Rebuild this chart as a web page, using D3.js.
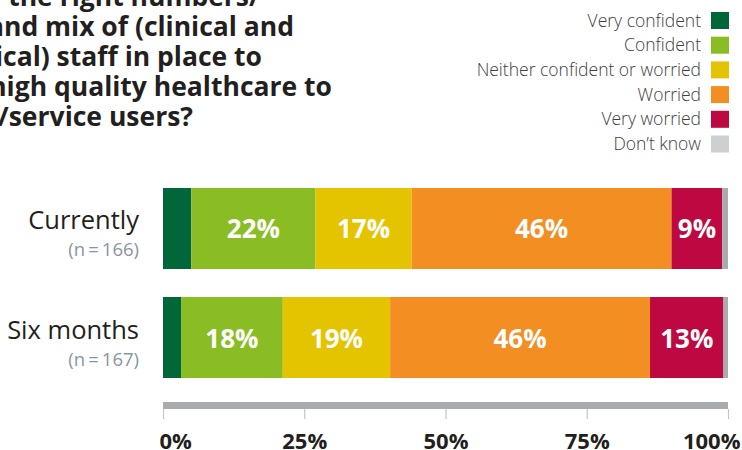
<!DOCTYPE html>
<html>
<head>
<meta charset="utf-8">
<script src="https://cdn.jsdelivr.net/npm/d3@7"></script>
<style>
  html, body { margin: 0; padding: 0; background: #fff; }
  svg { display: block; }
  text { font-family: "Open Sans", "Noto Sans", sans-serif; }
</style>
</head>
<body>
<svg id="chart" width="742" height="450"></svg>
<script>
// Survey question (wrapped over five lines)
const titleLines = [
  "How confident are you that you have the right numbers/",
  "skills and mix of (clinical and",
  "non-clinical) staff in place to",
  "deliver high quality healthcare to",
  "patients/service users?"
];

// Response categories, in stacking order
const seriesNames = ["Very confident", "Confident", "Neither confident or worried", "Worried", "Very worried", "Don\u2019t know"];
const seriesColors = ["#00673A", "#8ABD24", "#E4C300", "#F28E22", "#BE0841", "#A9ACAE"];
const legendColors = ["#00673A", "#8ABD24", "#E4C300", "#F28E22", "#BE0841", "#CDCFD0"];

// Time frames asked about and their sample sizes
const periods = ["Currently", "Six months"];
const sampleSizes = ["(n\u2009=\u2009166)", "(n\u2009=\u2009167)"];

// Percentage of respondents per category (one array per period)
const currentlyValues = [5, 22, 17, 46, 9, 1];
const sixMonthsValues = [3.2, 18, 19, 46, 13, 0.8];

// Axis ticks
const tickValues = [0, 25, 50, 75, 100];
const tickLabels = ["0%", "25%", "50%", "75%", "100%"];

const svg = d3.select("#chart");

// ---- scales ----
const x = d3.scaleLinear().domain([0, 100]).range([163, 728]);
const y = d3.scaleBand().domain(periods).range([188, 378]).paddingInner(0.257).paddingOuter(0);

// ---- stacked data ----
const rows = periods.map((p, i) => {
  const vals = i === 0 ? currentlyValues : sixMonthsValues;
  const r = { period: p };
  seriesNames.forEach((s, j) => r[s] = vals[j]);
  return r;
});
const stacked = d3.stack().keys(seriesNames)(rows);

// ---- title ----
const title = svg.append("g").attr("class", "title");
const titleRight = [260, 294, 262, 332, 193];
titleLines.forEach((line, i) => {
  title.append("text")
    .attr("x", titleRight[i])
    .attr("y", 6 + i * 30)
    .attr("text-anchor", "end")
    .attr("font-size", 26.5)
    .attr("font-weight", 700)
    .attr("fill", "#231F20")
    .text(line);
});

// ---- legend ----
const legend = svg.append("g").attr("class", "legend");
seriesNames.forEach((name, i) => {
  const cy = 20.5 + i * 24.7;
  legend.append("text")
    .attr("x", 701)
    .attr("y", cy + 6)
    .attr("text-anchor", "end")
    .attr("font-size", 17.5)
    .attr("font-weight", 300)
    .attr("fill", "#414042")
    .text(name);
  legend.append("rect")
    .attr("x", 711)
    .attr("y", cy - 8.5)
    .attr("width", 18)
    .attr("height", 17)
    .attr("fill", legendColors[i]);
});

// ---- bars ----
const layers = svg.append("g").attr("class", "bars")
  .selectAll("g")
  .data(stacked)
  .join("g")
  .attr("fill", (d, i) => seriesColors[i]);

layers.selectAll("rect")
  .data(d => d)
  .join("rect")
  .attr("x", d => x(d[0]))
  .attr("y", d => y(d.data.period))
  .attr("width", d => x(d[1]) - x(d[0]))
  .attr("height", y.bandwidth());

// value labels inside the wider segments
const labels = svg.append("g").attr("class", "values");
stacked.forEach(layer => {
  layer.forEach(d => {
    const v = d[1] - d[0];
    if (v < 8) return;
    labels.append("text")
      .attr("x", x((d[0] + d[1]) / 2))
      .attr("y", y(d.data.period) + y.bandwidth() / 2 + 10)
      .attr("text-anchor", "middle")
      .attr("font-size", 26)
      .attr("font-weight", 700)
      .attr("fill", "#fff")
      .text(d3.format(".0f")(v) + "%");
  });
});

// ---- category labels ----
const cats = svg.append("g").attr("class", "categories");
periods.forEach((p, i) => {
  const cy = y(p) + y.bandwidth() / 2;
  cats.append("text")
    .attr("x", 139)
    .attr("y", cy + 1)
    .attr("text-anchor", "end")
    .attr("font-size", 25.5)
    .attr("font-weight", 400)
    .attr("fill", "#231F20")
    .text(p);
  cats.append("text")
    .attr("x", 139)
    .attr("y", cy + 28)
    .attr("text-anchor", "end")
    .attr("font-size", 18.5)
    .attr("font-weight", 400)
    .attr("fill", "#8796A2")
    .text(sampleSizes[i]);
});

// ---- x axis ----
const axisY = 402;
svg.append("rect")
  .attr("x", x(0))
  .attr("y", axisY)
  .attr("width", x(100) - x(0))
  .attr("height", 7)
  .attr("fill", "#A9ACAE");

const axis = svg.append("g")
  .attr("transform", `translate(0,${axisY + 7})`)
  .call(d3.axisBottom(x).tickValues(tickValues).tickSize(10).tickFormat((d, i) => tickLabels[i]));
axis.select(".domain").remove();
axis.selectAll(".tick line").attr("stroke", "#C4C6C8").attr("stroke-width", 1.2);
axis.selectAll(".tick text")
  .attr("y", 40)
  .attr("dy", 0)
  .attr("font-family", "Open Sans, Noto Sans, sans-serif")
  .attr("font-size", 22)
  .attr("font-weight", 700)
  .attr("fill", "#231F20")
  .attr("text-anchor", (d, i) => i === 0 ? "start" : (i === tickValues.length - 1 ? "end" : "middle"))
  .attr("dx", (d, i) => i === 0 ? -4 : (i === tickValues.length - 1 ? 12 : 0));
</script>
</body>
</html>
